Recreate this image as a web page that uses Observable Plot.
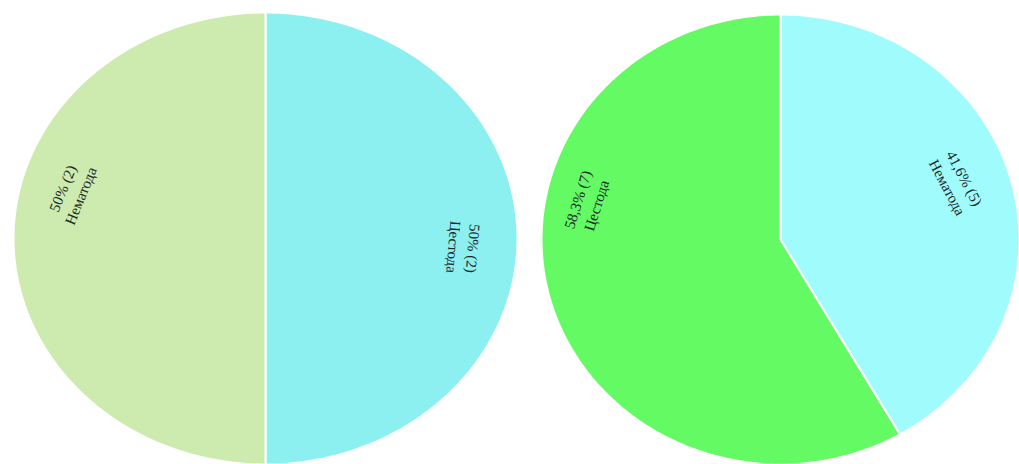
<!DOCTYPE html>
<html>
<head>
<meta charset="utf-8">
<script src="https://cdn.jsdelivr.net/npm/d3@7"></script>
<script src="https://cdn.jsdelivr.net/npm/@observablehq/plot@0.6"></script>
<style>
  body { margin: 0; background: #fff; }
  #charts { display: flex; width: 1019px; height: 464px; overflow: hidden; }
  #charts svg { display: block; overflow: visible; }
</style>
</head>
<body>
<div id="charts"></div>
<script>
// Sample 1: parasite groups (count of cases)
const categories1 = ["Цестода", "Нематода"];
const counts1 = [2, 2];
const colors1 = ["#8cf0f0", "#cdebaf"];

// Sample 2: parasite groups (count of cases)
const categories2 = ["Нематода", "Цестода"];
const counts2 = [5, 7];
const colors2 = ["#a0fcfc", "#64fa64"];

// Percent truncated to one decimal, decimal comma
function pct(v, total) {
  const p = Math.floor(v / total * 1000) / 10;
  return String(p).replace(".", ",");
}

function pieChart(categories, counts, colors, layout) {
  const rows = categories.map((name, i) => ({name, count: counts[i]}));
  const total = d3.sum(counts);
  const arcs = d3.pie().sort(null).value(d => d.count)(rows);

  // outline of every slice: centre + arc points, closed by the curve
  const outline = [];
  for (const a of arcs) {
    outline.push({name: a.data.name, x: 0, y: 0});
    const steps = Math.max(2, Math.ceil((a.endAngle - a.startAngle) / (Math.PI / 180)));
    for (let k = 0; k <= steps; ++k) {
      const t = a.startAngle + (a.endAngle - a.startAngle) * k / steps;
      outline.push({name: a.data.name, x: Math.sin(t), y: Math.cos(t)});
    }
  }

  // labels set along the tangent of their slice
  const labels = arcs.map(a => {
    const name = a.data.name;
    const t = (a.startAngle + a.endAngle) / 2 + (layout.nudge[name] || 0) * Math.PI / 180;
    const r = layout.r[name];
    return {
      x: r * Math.sin(t),
      y: r * Math.cos(t),
      rotate: Math.atan2(0.65 * Math.sin(t), Math.cos(t)) * 180 / Math.PI,
      text: `${pct(a.data.count, total)}% (${a.data.count})\n${name}`
    };
  });

  return Plot.plot({
    width: layout.width,
    height: 464,
    marginLeft: layout.marginLeft,
    marginRight: layout.marginRight,
    marginTop: layout.marginTop,
    marginBottom: 0,
    x: {domain: [-1, 1], axis: null},
    y: {domain: [-1, 1], axis: null},
    color: {domain: categories, range: colors},
    style: {background: "transparent"},
    marks: [
      Plot.line(outline, {x: "x", y: "y", z: "name", fill: "name", stroke: "white", strokeWidth: 2, curve: "linear-closed"}),
      Plot.text(labels, {
        x: "x", y: "y", text: "text", rotate: "rotate",
        fontSize: 15, fontFamily: "Liberation Serif", lineHeight: 1.3,
        fill: "#1a2828"
      })
    ]
  });
}

const host = document.getElementById("charts");
host.append(pieChart(categories1, counts1, colors1, {
  width: 530, marginLeft: 13, marginRight: 13, marginTop: 12,
  r: {"Цестода": 0.79, "Нематода": 0.8}, nudge: {"Цестода": 3, "Нематода": 15}
}));
host.append(pieChart(categories2, counts2, colors2, {
  width: 489, marginLeft: 11, marginRight: 0, marginTop: 14,
  r: {"Нематода": 0.78, "Цестода": 0.83}, nudge: {"Нематода": -4, "Цестода": 26.5}
}));
</script>
</body>
</html>
